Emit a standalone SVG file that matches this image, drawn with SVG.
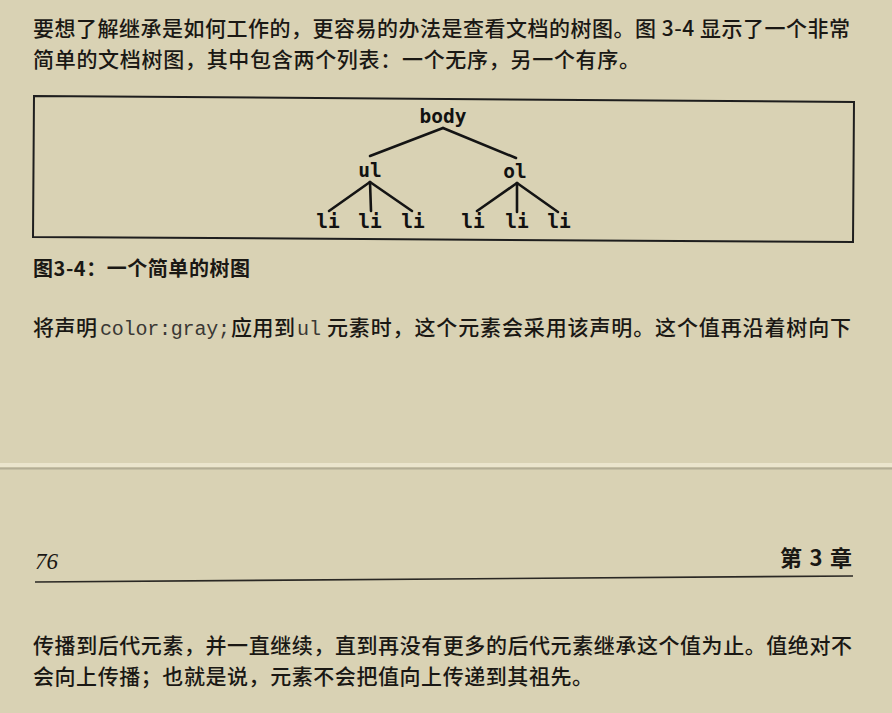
<svg xmlns="http://www.w3.org/2000/svg" width="892" height="713" viewBox="0 0 892 713">
<style>
.zh{font-family:"Noto Sans CJK SC","Noto Sans",sans-serif;font-size:21px;font-weight:500;fill:#1a1814}
.cap{font-family:"Noto Sans CJK SC","Noto Sans",sans-serif;font-size:20px;font-weight:bold;fill:#1a1814}
.mono{font-family:"Liberation Mono","DejaVu Sans Mono",monospace;font-size:20px;fill:#3a3834}
.node{font-family:"DejaVu Sans Mono","Liberation Mono",monospace;font-size:19.5px;font-weight:bold;fill:#111;text-anchor:middle}
.edge{stroke:#141414;stroke-width:2.6;stroke-linecap:round;fill:none}
</style>
<rect x="0" y="0" width="892" height="713" fill="#d9d2b4"/>

<!-- top paragraph -->
<text class="zh" x="33" y="36" textLength="817" lengthAdjust="spacing">要想了解继承是如何工作的，更容易的办法是查看文档的树图。图 3-4 显示了一个非常</text>
<text class="zh" x="33" y="67" textLength="607" lengthAdjust="spacing">简单的文档树图，其中包含两个列表：一个无序，另一个有序。</text>

<!-- figure frame -->
<polygon points="34,96 854,102 853,242 33,237" fill="none" stroke="#1e1e1e" stroke-width="2"/>

<g id="connectors">
<line class="edge" x1="443" y1="128" x2="370" y2="156"/>
<line class="edge" x1="443" y1="128" x2="516" y2="158"/>
<line class="edge" x1="370" y1="182" x2="329" y2="211"/>
<line class="edge" x1="370" y1="182" x2="371" y2="211"/>
<line class="edge" x1="370" y1="182" x2="412" y2="211"/>
<line class="edge" x1="517" y1="183" x2="477" y2="211"/>
<line class="edge" x1="517" y1="183" x2="517" y2="212"/>
<line class="edge" x1="517" y1="183" x2="558" y2="212"/>
</g>

<g id="node-body"><text class="node" x="443" y="123">body</text></g>
<g id="node-ul"><text class="node" x="370" y="177">ul</text></g>
<g id="node-ol"><text class="node" x="515" y="178">ol</text></g>
<g id="node-li1"><text class="node" x="328" y="228">li</text></g>
<g id="node-li2"><text class="node" x="370" y="228">li</text></g>
<g id="node-li3"><text class="node" x="413" y="228">li</text></g>
<g id="node-li4"><text class="node" x="473" y="228">li</text></g>
<g id="node-li5"><text class="node" x="517" y="228">li</text></g>
<g id="node-li6"><text class="node" x="559" y="228">li</text></g>

<!-- caption -->
<text class="cap" x="33" y="276" textLength="217" lengthAdjust="spacing">图3-4：一个简单的树图</text>

<!-- paragraph with code -->
<text class="zh" x="33" y="335" textLength="64" lengthAdjust="spacing">将声明</text>
<text class="mono" x="100" y="335" textLength="130" lengthAdjust="spacing">color:gray;</text>
<text class="zh" x="231" y="335" textLength="64" lengthAdjust="spacing">应用到</text>
<text class="mono" x="297" y="335" textLength="24" lengthAdjust="spacing">ul</text>
<text class="zh" x="327" y="335" textLength="524" lengthAdjust="spacing">元素时，这个元素会采用该声明。这个值再沿着树向下</text>

<!-- page seam -->
<rect x="0" y="463" width="892" height="4" fill="#ebe5cd"/>
<line x1="0" y1="468.5" x2="892" y2="468.5" stroke="#aaa48e" stroke-width="2" opacity="0.8"/>

<!-- footer -->
<text x="35" y="569" font-family="Liberation Serif,serif" font-style="italic" font-size="23" fill="#1a1814">76</text>
<text x="780" y="566" font-family="Noto Sans CJK SC,sans-serif" font-size="22" font-weight="bold" fill="#1a1814" textLength="72" lengthAdjust="spacing">第 3 章</text>
<line x1="35" y1="582" x2="853" y2="576" stroke="#2a2824" stroke-width="1.6"/>

<!-- bottom paragraph -->
<text class="zh" x="33" y="653" textLength="819" lengthAdjust="spacing">传播到后代元素，并一直继续，直到再没有更多的后代元素继承这个值为止。值绝对不</text>
<text class="zh" x="33" y="684" textLength="560" lengthAdjust="spacing">会向上传播；也就是说，元素不会把值向上传递到其祖先。</text>
</svg>
